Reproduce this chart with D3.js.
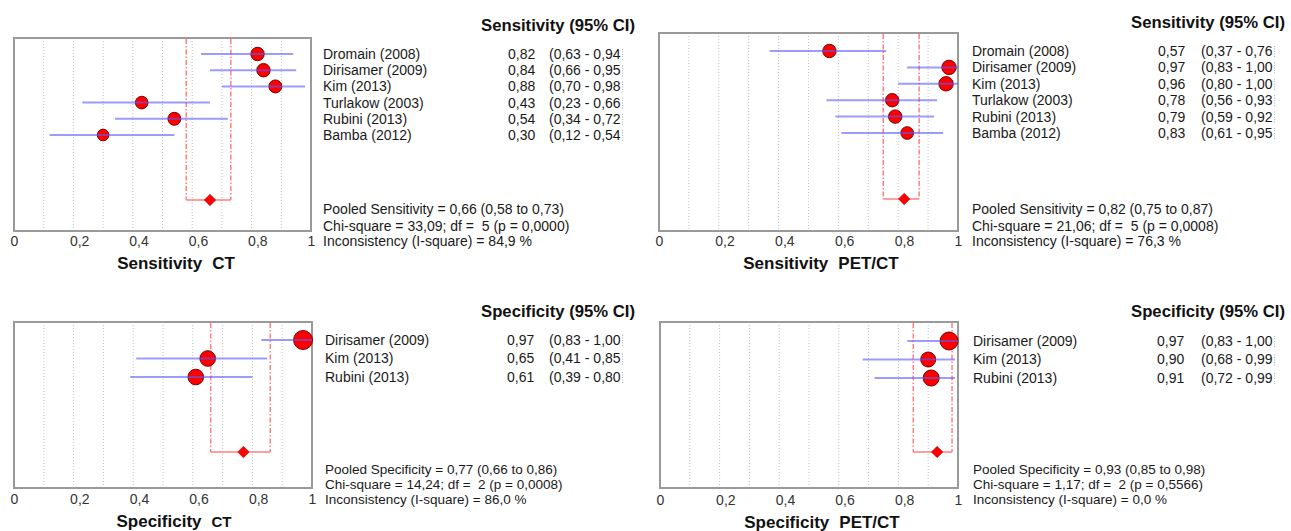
<!DOCTYPE html>
<html>
<head>
<meta charset="utf-8">
<script src="https://cdn.jsdelivr.net/npm/d3@7"></script>
<style>
  body { margin: 0; background: #fff; }
  svg { display: block; font-family: "Liberation Sans", Arial, sans-serif; }
  text { white-space: pre; }
</style>
</head>
<body>
<svg id="chart" width="1291" height="531"></svg>
<script>
// ---- data ----
const sensStudies = ["Dromain (2008)", "Dirisamer (2009)", "Kim (2013)", "Turlakow (2003)", "Rubini (2013)", "Bamba (2012)"];
const specStudies = ["Dirisamer (2009)", "Kim (2013)", "Rubini (2013)"];

const sensCTEst = [0.82, 0.84, 0.88, 0.43, 0.54, 0.30];
const sensCTLo  = [0.63, 0.66, 0.70, 0.23, 0.34, 0.12];
const sensCTHi  = [0.94, 0.95, 0.98, 0.66, 0.72, 0.54];
const sensCTWeight = [45, 45, 42, 40, 42, 34];

const sensPETEst = [0.57, 0.97, 0.96, 0.78, 0.79, 0.83];
const sensPETLo  = [0.37, 0.83, 0.80, 0.56, 0.59, 0.61];
const sensPETHi  = [0.76, 1.00, 1.00, 0.93, 0.92, 0.95];
const sensPETWeight = [45, 52, 52, 45, 45, 40];

const specCTEst = [0.97, 0.65, 0.61];
const specCTLo  = [0.83, 0.41, 0.39];
const specCTHi  = [1.00, 0.85, 0.80];
const specCTWeight = [90, 61, 61];

const specPETEst = [0.97, 0.90, 0.91];
const specPETLo  = [0.83, 0.68, 0.72];
const specPETHi  = [1.00, 0.99, 0.99];
const specPETWeight = [81, 56, 64];

// pooled results, order: sens CT, sens PET/CT, spec CT, spec PET/CT
const pooledEst = [0.66, 0.82, 0.77, 0.93];
const pooledLo  = [0.58, 0.75, 0.66, 0.85];
const pooledHi  = [0.73, 0.87, 0.86, 0.98];
const chiSquare = [33.09, 21.06, 14.24, 1.17];
const degFree   = [5, 5, 2, 2];
const pValue    = [0.0000, 0.0008, 0.0008, 0.5566];
const iSquare   = [84.9, 76.3, 86.0, 0.0];

const tickVals = [0, 0.2, 0.4, 0.6, 0.8, 1];
const gridVals = [0.1, 0.2, 0.3, 0.4, 0.5, 0.6, 0.7, 0.8, 0.9];

// ---- layout ----
const panels = [
  { studies: sensStudies, est: sensCTEst, lo: sensCTLo, hi: sensCTHi, w: sensCTWeight,
    header: "Sensitivity (95% CI)", pooledLabel: "Pooled Sensitivity", title: ["Sensitivity", "CT"], titleSmall: false,
    box: [14, 38, 311, 231], row0: 54, rowStep: 16.2, pooledY: 200, tickY: 241, titleX: 176, titleY: 263,
    nameX: 323, valX: 508, ciX: 549, headerX: 635, headerY: 25, statY: [209, 226, 241], statSize: 14 },
  { studies: sensStudies, est: sensPETEst, lo: sensPETLo, hi: sensPETHi, w: sensPETWeight,
    header: "Sensitivity (95% CI)", pooledLabel: "Pooled Sensitivity", title: ["Sensitivity", "PET/CT"], titleSmall: false,
    box: [659, 33, 958, 231], row0: 51, rowStep: 16.4, pooledY: 199, tickY: 241, titleX: 821, titleY: 263,
    nameX: 972, valX: 1158, ciX: 1201, headerX: 1285, headerY: 22, statY: [209, 226, 241], statSize: 14 },
  { studies: specStudies, est: specCTEst, lo: specCTLo, hi: specCTHi, w: specCTWeight,
    header: "Specificity (95% CI)", pooledLabel: "Pooled Specificity", title: ["Specificity", "CT"], titleSmall: true,
    box: [14, 322, 312, 488], row0: 340, rowStep: 18.5, pooledY: 452, tickY: 499, titleX: 174, titleY: 521,
    nameX: 325, valX: 507, ciX: 549, headerX: 635, headerY: 311, statY: [469, 484, 499], statSize: 13.5 },
  { studies: specStudies, est: specPETEst, lo: specPETLo, hi: specPETHi, w: specPETWeight,
    header: "Specificity (95% CI)", pooledLabel: "Pooled Specificity", title: ["Specificity", "PET/CT"], titleSmall: false,
    box: [660, 322, 958, 488], row0: 341, rowStep: 18.5, pooledY: 452, tickY: 500, titleX: 822, titleY: 522,
    nameX: 973, valX: 1157, ciX: 1201, headerX: 1285, headerY: 311, statY: [469, 484, 499], statSize: 13.5 }
];

const f1 = v => d3.format(".1f")(v).replace(".", ",");
const f2 = v => d3.format(".2f")(v).replace(".", ",");
const f4 = v => d3.format(".4f")(v).replace(".", ",");

const svg = d3.select("#chart");
const rScale = d3.scaleSqrt().domain([0, 100]).range([0, 10]);

panels.forEach((p, k) => {
  const g = svg.append("g");
  const [x0, y0, x1, y1] = p.box;
  const x = d3.scaleLinear().domain([0, 1]).range([x0, x1]);
  const y = d3.scaleLinear().domain([0, 1]).range([p.row0, p.row0 + p.rowStep]);
  const idx = d3.range(p.studies.length);

  // dotted grid
  g.selectAll(".grid").data(gridVals).join("line")
    .attr("class", "grid")
    .attr("x1", d => x(d)).attr("x2", d => x(d))
    .attr("y1", y0).attr("y2", y1)
    .attr("stroke", "#c4c4c4").attr("stroke-width", 1)
    .attr("stroke-dasharray", "1,2");

  // pooled CI bracket
  [pooledLo[k], pooledHi[k]].forEach(v => {
    g.append("line")
      .attr("x1", x(v)).attr("x2", x(v))
      .attr("y1", y0 + 1).attr("y2", p.pooledY)
      .attr("stroke", "#ff8080").attr("stroke-width", 1.5)
      .attr("stroke-dasharray", "5,2,1.5,2");
  });
  g.append("line")
    .attr("x1", x(pooledLo[k])).attr("x2", x(pooledHi[k]))
    .attr("y1", p.pooledY).attr("y2", p.pooledY)
    .attr("stroke", "#ff8080").attr("stroke-width", 1.5);

  // frame
  g.append("rect")
    .attr("x", x0).attr("y", y0)
    .attr("width", x1 - x0).attr("height", y1 - y0)
    .attr("fill", "none").attr("stroke", "#9a9a9a").attr("stroke-width", 2);

  // study markers
  g.selectAll(".pt").data(idx).join("circle")
    .attr("class", "pt")
    .attr("cx", i => x(p.est[i])).attr("cy", i => y(i))
    .attr("r", i => rScale(p.w[i]))
    .attr("fill", "#ff0000").attr("stroke", "#7a0000").attr("stroke-width", 1);

  // study CIs (drawn over the markers)
  g.selectAll(".ci").data(idx).join("line")
    .attr("class", "ci")
    .attr("x1", i => x(p.lo[i])).attr("x2", i => x(p.hi[i]))
    .attr("y1", i => y(i)).attr("y2", i => y(i))
    .attr("stroke", "#5a5aff").attr("stroke-opacity", 0.6).attr("stroke-width", 2);

  // pooled diamond
  g.append("path")
    .attr("d", d3.symbol(d3.symbolSquare, 66)())
    .attr("transform", `translate(${x(pooledEst[k])},${p.pooledY}) rotate(45)`)
    .attr("fill", "#ff0000").attr("stroke", "#b00000").attr("stroke-width", 0.5);

  // x axis
  const ax = g.append("g")
    .attr("transform", `translate(0,${p.tickY})`)
    .call(d3.axisBottom(x).tickValues(tickVals).tickSize(0)
      .tickFormat(d => (d === 0 || d === 1) ? String(d) : String(d).replace(".", ",")));
  ax.select(".domain").remove();
  ax.selectAll("text")
    .attr("y", 0).attr("dy", "0.35em")
    .attr("font-size", 14).attr("font-family", "Liberation Sans, Arial, sans-serif")
    .attr("fill", "#333")
    .attr("text-anchor", d => (d === 0 || d === 1) ? "middle" : "start")
    .attr("dx", d => (d === 0 || d === 1) ? 0 : -4);

  // axis title
  const t = g.append("text")
    .attr("x", p.titleX).attr("y", p.titleY).attr("dy", "0.35em")
    .attr("text-anchor", "middle")
    .attr("font-weight", "bold").attr("font-size", 17).attr("fill", "#111");
  t.append("tspan").text(p.title[0]);
  t.append("tspan").attr("dx", 10).attr("font-size", p.titleSmall ? 15 : 17).text(p.title[1]);

  // header
  g.append("text")
    .attr("x", p.headerX).attr("y", p.headerY).attr("dy", "0.35em")
    .attr("text-anchor", "end")
    .attr("font-weight", "bold").attr("font-size", 16.7).attr("fill", "#111")
    .text(p.header);

  // study table
  const rowText = (cls, xPos, fn) => g.selectAll("." + cls).data(idx).join("text")
    .attr("class", cls)
    .attr("x", xPos).attr("y", i => y(i)).attr("dy", "0.35em")
    .attr("font-size", 14).attr("fill", "#1a1a1a")
    .text(fn);
  rowText("nm", p.nameX, i => p.studies[i]);
  rowText("val", p.valX, i => f2(p.est[i]));
  const ci = rowText("cit", p.ciX, i => `(${f2(p.lo[i])} - ${f2(p.hi[i])}`);
  ci.each(function(i) {
    const len = this.getComputedTextLength();
    g.append("line")
      .attr("x1", p.ciX + len + 2).attr("x2", p.ciX + len + 2)
      .attr("y1", y(i) - 5).attr("y2", y(i) + 6)
      .attr("stroke", "#aaa").attr("stroke-width", 1).attr("stroke-dasharray", "1,1.5");
  });

  // pooled statistics
  const stats = [
    `${p.pooledLabel} = ${f2(pooledEst[k])} (${f2(pooledLo[k])} to ${f2(pooledHi[k])})`,
    `Chi-square = ${f2(chiSquare[k])}; df =  ${degFree[k]} (p = ${f4(pValue[k])})`,
    `Inconsistency (I-square) = ${f1(iSquare[k])} %`
  ];
  g.selectAll(".st").data(stats).join("text")
    .attr("class", "st")
    .attr("x", p.nameX).attr("y", (d, j) => p.statY[j]).attr("dy", "0.35em")
    .attr("font-size", p.statSize).attr("fill", "#1a1a1a")
    .text(d => d);
});
</script>
</body>
</html>
